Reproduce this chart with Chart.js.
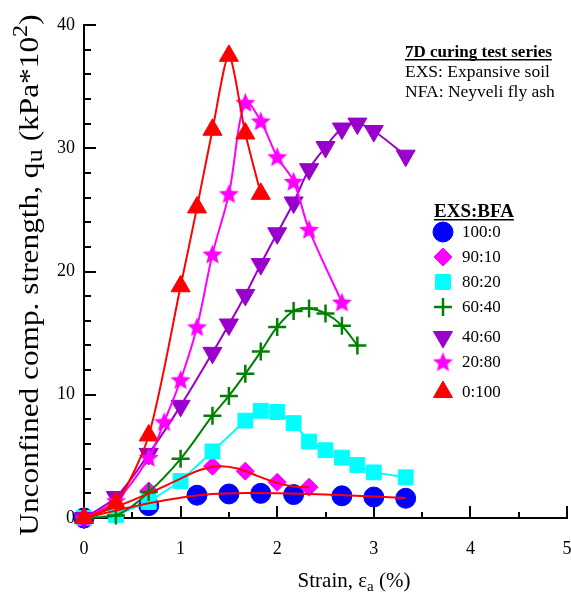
<!DOCTYPE html>
<html>
<head>
<meta charset="utf-8">
<script src="https://cdn.jsdelivr.net/npm/chart.js@4.4.0/dist/chart.umd.min.js"></script>
<style>
  html, body { margin: 0; padding: 0; background: #fff; overflow: hidden; }
  #outer { width: 571px; height: 596px; overflow: hidden; }
  #wrap { width: 579px; height: 596px; position: relative; }
</style>
</head>
<body>
<div id="outer"><div id="wrap"><canvas id="chart_1"></canvas></div></div>
<script>
// strain (%) and q_u (kPa*10^2)
var strain100 = [0, 0.67, 1.17, 1.5, 1.83, 2.17, 2.67, 3.0, 3.33];
var qu100     = [0, 1.0, 1.85, 1.95, 2.0, 1.9, 1.8, 1.7, 1.6];

var strain90 = [0, 0.67, 1.33, 1.67, 2.0, 2.33];
var qu90     = [0, 2.2, 4.2, 3.8, 2.9, 2.5];

var strain80 = [0, 0.33, 0.67, 1.0, 1.33, 1.67, 1.83, 2.0, 2.17, 2.33, 2.5, 2.67, 2.83, 3.0, 3.33];
var qu80     = [0, 0.25, 1.3, 3.0, 5.4, 7.9, 8.7, 8.6, 7.7, 6.2, 5.5, 4.9, 4.3, 3.7, 3.3];

var strain60 = [0, 0.33, 0.67, 1.0, 1.33, 1.5, 1.67, 1.83, 2.0, 2.17, 2.33, 2.5, 2.67, 2.83];
var qu60     = [0, 0.2, 2.1, 4.8, 8.3, 9.9, 11.7, 13.5, 15.5, 16.8, 17.0, 16.6, 15.6, 14.0];

var strain40 = [0, 0.33, 0.67, 1.0, 1.33, 1.5, 1.67, 1.83, 2.0, 2.17, 2.33, 2.5, 2.67, 2.83, 3.0, 3.33];
var qu40     = [0, 1.7, 5.2, 9.1, 13.4, 15.7, 18.1, 20.6, 23.1, 25.6, 28.3, 30.1, 31.6, 32.0, 31.4, 29.4];

var strain20 = [0, 0.33, 0.67, 0.83, 1.0, 1.17, 1.33, 1.5, 1.67, 1.83, 2.0, 2.17, 2.33, 2.67];
var qu20     = [0, 1.4, 4.9, 7.8, 11.2, 15.5, 21.4, 26.3, 33.7, 32.2, 29.3, 27.3, 23.4, 17.5];

var strain0 = [0, 0.33, 0.67, 1.0, 1.17, 1.33, 1.5, 1.67, 1.83];
var qu0     = [0, 1.2, 6.7, 18.8, 25.2, 31.5, 37.5, 31.2, 26.3];

// red fitted curves drawn through 100:0 and 90:10
var fitStrain100 = [0, 0.33, 0.67, 1.0, 1.33, 1.67, 2.0, 2.5, 3.0, 3.33];
var fitQu100     = [0, 0.6, 1.2, 1.65, 1.95, 2.02, 2.0, 1.9, 1.75, 1.62];
var fitStrain90  = [0, 0.33, 0.67, 1.0, 1.2, 1.4, 1.6, 1.8, 2.0, 2.17, 2.33];
var fitQu90      = [0, 0.9, 2.0, 3.2, 3.9, 4.2, 4.0, 3.4, 2.85, 2.55, 2.5];

var xTicks = [0, 1, 2, 3, 4, 5];
var yTicks = [0, 10, 20, 30, 40];
var mixLabels = ['100:0', '90:10', '80:20', '60:40', '40:60', '20:80', '0:100'];

var SERIF = '"Liberation Serif", "Times New Roman", serif';

function toPoints(xs, ys) {
  var pts = [];
  for (var i = 0; i < xs.length; i++) pts.push({x: xs[i], y: ys[i]});
  return pts;
}

function makeStar(r, color) {
  var c = document.createElement('canvas');
  var s = Math.ceil(r * 2) + 2;
  c.width = s; c.height = s;
  var g = c.getContext('2d');
  g.fillStyle = color;
  g.beginPath();
  for (var i = 0; i < 10; i++) {
    var rad = (i % 2) ? r * 0.45 : r;
    var a = -Math.PI / 2 + i * Math.PI / 5;
    g.lineTo(s / 2 + rad * Math.cos(a), s / 2 + rad * Math.sin(a) + 0.8);
  }
  g.closePath();
  g.fill();
  return c;
}

var starImg = makeStar(10.5, '#ff00ff');

// marker styles, same order as mixLabels
var markers = [
  {color: '#0000ff', style: 'circle',   radius: 10,  rotation: 0,   bw: 1},
  {color: '#ff00ff', style: 'rectRot',  radius: 9,   rotation: 0,   bw: 1},
  {color: '#00ffff', style: 'rect',     radius: 10.5,rotation: 0,   bw: 1},
  {color: '#008000', style: 'cross',    radius: 9,   rotation: 0,   bw: 2.5},
  {color: '#9900cc', style: 'triangle', radius: 11,  rotation: 180, bw: 1},
  {color: '#ff00ff', style: starImg,    radius: 10,  rotation: 0,   bw: 1},
  {color: '#ff0000', style: 'triangle', radius: 11,  rotation: 0,   bw: 1}
];

function series(i, xs, ys, lineColor, tension, order) {
  var m = markers[i];
  return {
    label: mixLabels[i],
    data: toPoints(xs, ys),
    showLine: lineColor !== null,
    borderColor: lineColor || m.color,
    borderWidth: 2,
    tension: tension,
    pointStyle: m.style,
    pointRadius: m.radius,
    pointRotation: m.rotation,
    pointBackgroundColor: m.color,
    pointBorderColor: m.color,
    pointBorderWidth: m.bw,
    clip: false,
    order: order
  };
}

function fitLine(xs, ys, order) {
  return {
    label: 'fit',
    data: toPoints(xs, ys),
    showLine: true,
    borderColor: '#ff0000',
    borderWidth: 2,
    tension: 0.4,
    pointRadius: 0,
    clip: false,
    order: order
  };
}

var datasets = [
  series(0, strain100, qu100, null, 0, 9),
  series(1, strain90, qu90, null, 0, 8),
  fitLine(fitStrain100, fitQu100, 2),
  fitLine(fitStrain90, fitQu90, 2),
  series(2, strain80, qu80, '#00ffff', 0, 7),
  series(3, strain60, qu60, '#008000', 0.35, 6),
  series(4, strain40, qu40, '#9900cc', 0.35, 5),
  series(5, strain20, qu20, '#ff00ff', 0.35, 4),
  series(6, strain0, qu0, '#ff0000', 0.25, 1)
];

// inner tick marks on both axes
var ticksPlugin = {
  id: 'innerTicks',
  beforeDatasetsDraw: function(chart) {
    var ctx = chart.ctx, xs = chart.scales.x, ys = chart.scales.y;
    var a = chart.chartArea;
    ctx.save();
    ctx.strokeStyle = '#000';
    ctx.lineWidth = 2;
    for (var v = 0.5; v <= 5; v += 0.5) {
      var px = Math.round(xs.getPixelForValue(v));
      var len = (v % 1 === 0) ? 12 : 6;
      ctx.beginPath(); ctx.moveTo(px, a.bottom); ctx.lineTo(px, a.bottom - len); ctx.stroke();
    }
    for (var w = 2; w <= 40; w += 2) {
      var py = Math.round(ys.getPixelForValue(w));
      var l = (w % 10 === 0) ? 12 : 7;
      ctx.beginPath(); ctx.moveTo(a.left, py); ctx.lineTo(a.left + l, py); ctx.stroke();
    }
    ctx.restore();
  }
};

function drawRuns(ctx, runs, x, y) {
  // runs: [text, size, dy, bold]
  var total = 0, i;
  for (i = 0; i < runs.length; i++) {
    ctx.font = (runs[i][3] ? 'bold ' : '') + runs[i][1] + 'px ' + SERIF;
    runs[i].w = ctx.measureText(runs[i][0]).width;
    total += runs[i].w;
  }
  var cx = x - total / 2;
  ctx.textAlign = 'left';
  ctx.textBaseline = 'alphabetic';
  for (i = 0; i < runs.length; i++) {
    ctx.font = (runs[i][3] ? 'bold ' : '') + runs[i][1] + 'px ' + SERIF;
    ctx.fillText(runs[i][0], cx, y + runs[i][2]);
    cx += runs[i].w;
  }
}

function underlined(ctx, text, x, y, size) {
  ctx.font = 'bold ' + size + 'px ' + SERIF;
  ctx.textAlign = 'left';
  ctx.textBaseline = 'alphabetic';
  ctx.fillText(text, x, y);
  var w = ctx.measureText(text).width;
  ctx.fillRect(x, y + 2, w, 1.5);
}

var textPlugin = {
  id: 'annotations',
  afterDraw: function(chart) {
    var ctx = chart.ctx;
    ctx.save();
    ctx.fillStyle = '#000';

    // axis titles
    ctx.save();
    ctx.translate(38, 275);
    ctx.rotate(-Math.PI / 2);
    ctx.scale(1.16, 1);
    drawRuns(ctx, [
      ['Unconfined comp. strength, q', 27, 0],
      ['u', 23, 4],
      [' (kPa*10', 27, 0],
      ['2', 21, -11],
      [')', 27, 0]
    ], 0, 0);
    ctx.restore();

    drawRuns(ctx, [
      ['Strain, \u03b5', 21, 0],
      ['a', 15, 4],
      [' (%)', 21, 0]
    ], 354, 587);

    // info block
    underlined(ctx, '7D curing test series', 405, 57, 17);
    ctx.font = '17.5px ' + SERIF;
    ctx.fillText('EXS: Expansive soil', 405, 77);
    ctx.fillText('NFA: Neyveli fly ash', 405, 97);

    // legend
    underlined(ctx, 'EXS:BFA', 434, 217, 19);
    var rows = [232, 257, 282, 307, 337, 362, 392];
    for (var i = 0; i < mixLabels.length; i++) {
      var m = markers[i];
      ctx.fillStyle = m.color;
      ctx.strokeStyle = m.color;
      ctx.lineWidth = m.bw;
      Chart.helpers.drawPoint(ctx, {pointStyle: m.style, radius: m.radius, rotation: m.rotation, borderWidth: m.bw}, 443, rows[i]);
      ctx.fillStyle = '#000';
      ctx.font = '17px ' + SERIF;
      ctx.textAlign = 'left';
      ctx.textBaseline = 'middle';
      ctx.fillText(mixLabels[i], 462, rows[i] + 1);
    }
    ctx.restore();
  }
};

new Chart(document.getElementById('chart_1').getContext('2d'), {
  type: 'scatter',
  data: { datasets: datasets },
  options: {
    responsive: true,
    maintainAspectRatio: false,
    animation: false,
    events: [],
    layout: { padding: { top: 25, right: 5, left: 0, bottom: 0 } },
    plugins: { legend: { display: false }, tooltip: { enabled: false } },
    scales: {
      x: {
        type: 'linear', min: 0, max: 5,
        afterFit: function(s) { s.height = 78; s.paddingRight = 0; s.paddingLeft = 0; },
        afterBuildTicks: function(s) { s.ticks = xTicks.map(function(v) { return {value: v}; }); },
        grid: { display: false, drawTicks: false },
        border: { display: true, color: '#000', width: 2 },
        ticks: { color: '#000', padding: 20, font: { family: SERIF, size: 18 } }
      },
      y: {
        type: 'linear', min: 0, max: 40,
        afterFit: function(s) { s.width = 84; },
        afterBuildTicks: function(s) { s.ticks = yTicks.map(function(v) { return {value: v}; }); },
        grid: { display: false, drawTicks: false },
        border: { display: true, color: '#000', width: 2 },
        ticks: { color: '#000', padding: 9, font: { family: SERIF, size: 18 } }
      }
    }
  },
  plugins: [ticksPlugin, textPlugin]
});
</script>
</body>
</html>
